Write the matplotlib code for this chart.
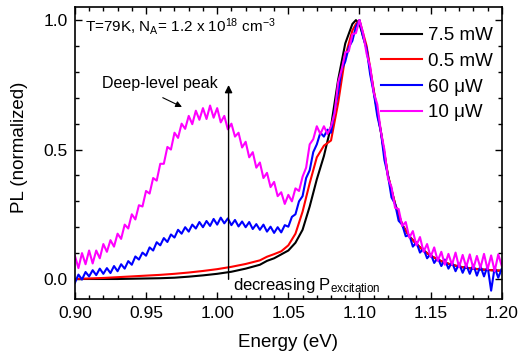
import numpy as np
import matplotlib
matplotlib.use("Agg")
import matplotlib.pyplot as plt
from matplotlib.ticker import MultipleLocator

plt.rcParams['font.family'] = ['Liberation Sans', 'DejaVu Sans']
plt.rcParams['mathtext.fontset'] = 'custom'
plt.rcParams['mathtext.rm'] = 'Liberation Sans'
plt.rcParams['mathtext.it'] = 'Liberation Sans:italic'

# energy grid of the low-power (noisy) spectra, 2.5 meV steps
energy_fine = np.round(0.90 + 0.0025 * np.arange(121), 4)

# energy points of the high-power (smooth) spectra
energy_smooth = [0.90, 0.91, 0.92, 0.93, 0.94, 0.95, 0.96, 0.97, 0.98, 0.99,
                 1.00, 1.01, 1.02, 1.03, 1.035, 1.04, 1.045, 1.05, 1.055, 1.06,
                 1.065, 1.07, 1.075, 1.08, 1.085, 1.09, 1.095, 1.0975, 1.10, 1.105,
                 1.11, 1.115, 1.12, 1.125, 1.13, 1.135, 1.14, 1.145, 1.15, 1.155,
                 1.16, 1.165, 1.17, 1.175, 1.18, 1.185, 1.19, 1.195, 1.20]

pl_7p5mW = [0.0, 0.0, 0.0, 0.0, 0.001, 0.002, 0.003, 0.005, 0.009, 0.014,
            0.02, 0.028, 0.04, 0.055, 0.07, 0.08, 0.095, 0.11, 0.14, 0.19,
            0.28, 0.385, 0.475, 0.59, 0.77, 0.91, 0.985, 1.0, 0.985, 0.89,
            0.725, 0.57, 0.40, 0.29, 0.21, 0.165, 0.135, 0.11, 0.09, 0.075,
            0.063, 0.055, 0.048, 0.043, 0.04, 0.037, 0.035, 0.033, 0.032]

pl_0p5mW = [0.0, 0.002, 0.004, 0.007, 0.01, 0.013, 0.016, 0.02, 0.025, 0.031,
            0.038, 0.047, 0.058, 0.072, 0.086, 0.096, 0.107, 0.13, 0.175, 0.26,
            0.37, 0.47, 0.515, 0.535, 0.68, 0.86, 0.96, 0.985, 1.0, 0.90,
            0.73, 0.57, 0.40, 0.29, 0.21, 0.165, 0.135, 0.11, 0.09, 0.075,
            0.063, 0.055, 0.048, 0.043, 0.04, 0.037, 0.035, 0.033, 0.032]

pl_60uW = [-0.015, 0.017, -0.002, 0.027, 0.01, 0.034, 0.015, 0.04, 0.02, 0.042,
           0.023, 0.05, 0.03, 0.057, 0.04, 0.069, 0.055, 0.087, 0.075, 0.102,
           0.09, 0.122, 0.11, 0.142, 0.13, 0.158, 0.143, 0.172, 0.16, 0.19,
           0.175, 0.20, 0.183, 0.21, 0.195, 0.22, 0.20, 0.224, 0.205, 0.232,
           0.21, 0.237, 0.215, 0.234, 0.208, 0.228, 0.203, 0.222, 0.20, 0.22,
           0.193, 0.212, 0.19, 0.21, 0.183, 0.202, 0.178, 0.20, 0.18, 0.208,
           0.202, 0.24, 0.25, 0.30, 0.32, 0.39, 0.42, 0.49, 0.52, 0.565,
           0.55, 0.577, 0.565, 0.65, 0.72, 0.81, 0.84, 0.895, 0.92, 0.975,
           1.0, 0.935, 0.89, 0.79, 0.72, 0.63, 0.57, 0.46, 0.40, 0.315,
           0.29, 0.225, 0.21, 0.165, 0.17, 0.125, 0.142, 0.102, 0.117, 0.08,
           0.097, 0.062, 0.082, 0.05, 0.075, 0.04, 0.065, 0.03, 0.06, 0.024,
           0.055, 0.02, 0.055, 0.013, 0.05, 0.01, 0.05, -0.045, 0.045, 0.005,
           0.04]

pl_10uW = [0.09, 0.042, 0.10, 0.057, 0.11, 0.06, 0.11, 0.08, 0.135, 0.105,
           0.15, 0.125, 0.175, 0.155, 0.21, 0.195, 0.25, 0.23, 0.285, 0.28,
           0.34, 0.33, 0.39, 0.38, 0.445, 0.445, 0.51, 0.50, 0.565, 0.545,
           0.60, 0.58, 0.63, 0.598, 0.65, 0.615, 0.66, 0.618, 0.67, 0.623,
           0.66, 0.605, 0.63, 0.578, 0.60, 0.55, 0.565, 0.508, 0.53, 0.47,
           0.49, 0.43, 0.45, 0.39, 0.41, 0.355, 0.375, 0.32, 0.335, 0.29,
           0.325, 0.30, 0.35, 0.34, 0.395, 0.43, 0.52, 0.54, 0.59, 0.56,
           0.59, 0.56, 0.59, 0.64, 0.76, 0.81, 0.875, 0.88, 0.945, 0.95,
           1.0, 0.95, 0.87, 0.82, 0.72, 0.675, 0.57, 0.50, 0.39, 0.355,
           0.275, 0.27, 0.205, 0.22, 0.16, 0.185, 0.13, 0.162, 0.105, 0.135,
           0.085, 0.122, 0.07, 0.105, 0.055, 0.097, 0.055, 0.102, 0.045, 0.093,
           0.046, 0.095, 0.04, 0.089, 0.043, 0.097, 0.037, 0.091, 0.03, 0.095,
           0.05]

labels = ['7.5 mW', '0.5 mW', '60 μW', '10 μW']
colors = ['black', 'red', 'blue', 'magenta']

fig, ax = plt.subplots(figsize=(5.2, 3.58), dpi=100)
fig.subplots_adjust(left=0.144, right=0.965, top=0.980, bottom=0.165)

series = [(energy_smooth, pl_7p5mW), (energy_smooth, pl_0p5mW),
          (energy_fine, pl_60uW), (energy_fine, pl_10uW)]
for (e, pl), lab, c in zip(series, labels, colors):
    ax.plot(e, pl, color=c, lw=1.5, label=lab)

ax.set_xlim(0.90, 1.20)
ax.set_ylim(-0.077, 1.05)
ax.xaxis.set_major_locator(MultipleLocator(0.05))
ax.xaxis.set_minor_locator(MultipleLocator(0.01))
ax.yaxis.set_major_locator(MultipleLocator(0.5))
ax.yaxis.set_minor_locator(MultipleLocator(0.1))
ax.xaxis.set_major_formatter(plt.FormatStrFormatter('%.2f'))
ax.yaxis.set_major_formatter(plt.FormatStrFormatter('%.1f'))
ax.tick_params(which='both', direction='in', top=True, right=True, width=1)
ax.tick_params(which='major', length=5, labelsize=12.5, pad=5)
ax.tick_params(which='minor', length=3)
for s in ax.spines.values():
    s.set_linewidth(1.2)

ax.set_xlabel('Energy (eV)', fontsize=13.5)
ax.set_ylabel('PL (normalized)', fontsize=13.5)
ax.xaxis.set_label_coords(0.5, -0.12)
ax.yaxis.set_label_coords(-0.11, 0.52)

ax.legend(loc='upper left', bbox_to_anchor=(0.717, 0.931), frameon=False,
          fontsize=13.5, handlelength=2.2, handletextpad=0.3, labelspacing=0.45,
          borderpad=0, borderaxespad=0)

ax.text(0.907, 0.975, r'T=79K, N$_\mathregular{A}$= 1.2 x 10$^\mathregular{18}$ cm$^\mathregular{-3}$',
        fontsize=11, va='center', ha='left')
ax.text(0.96, 0.755, 'Deep-level peak', fontsize=11.5, ha='center', va='center')
ax.annotate('', xy=(0.977, 0.66), xytext=(0.96, 0.705),
            arrowprops=dict(arrowstyle='-|>', color='black', lw=0.8, mutation_scale=9))
ax.annotate('', xy=(1.008, 0.76), xytext=(1.008, -0.012),
            arrowprops=dict(arrowstyle='-|>', color='black', lw=1.0, mutation_scale=11))
ax.text(1.011, -0.025, r'decreasing P$_\mathregular{excitation}$', fontsize=12,
        ha='left', va='center')

fig.savefig('out.png', dpi=100)
